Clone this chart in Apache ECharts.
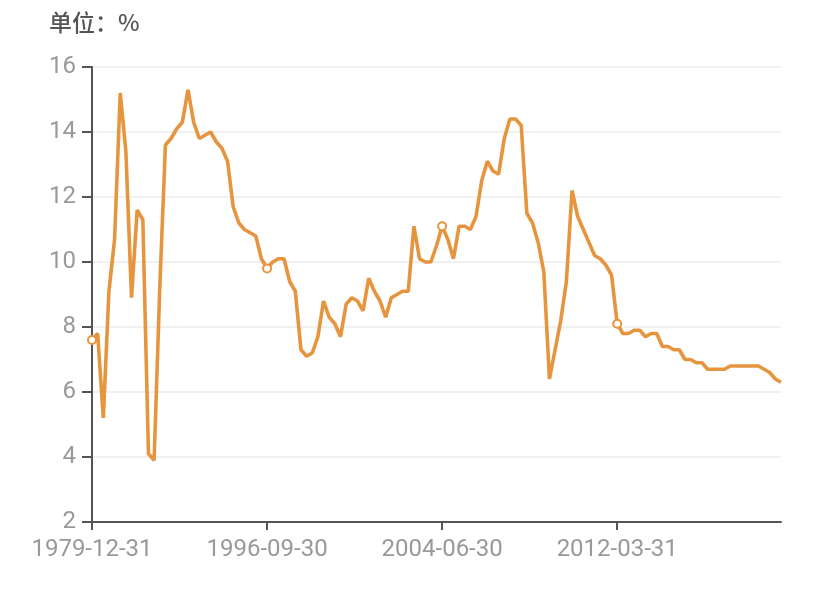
<!DOCTYPE html>
<html>
<head>
<meta charset="utf-8">
<script src="https://cdn.jsdelivr.net/npm/echarts@6/dist/echarts.min.js"></script>
<style>
html,body{margin:0;padding:0;background:#fff;}
#chart{width:831px;height:603px;}
</style>
</head>
<body>
<div id="chart"></div>
<script>
// Categories: annual 1979-1991, then quarterly 1992Q1-2019Q2
var categories = [
  "1979-12-31","1980-12-31","1981-12-31","1982-12-31","1983-12-31","1984-12-31","1985-12-31",
  "1986-12-31","1987-12-31","1988-12-31","1989-12-31","1990-12-31","1991-12-31",
  "1992-03-31","1992-06-30","1992-09-30","1992-12-31",
  "1993-03-31","1993-06-30","1993-09-30","1993-12-31",
  "1994-03-31","1994-06-30","1994-09-30","1994-12-31",
  "1995-03-31","1995-06-30","1995-09-30","1995-12-31",
  "1996-03-31","1996-06-30","1996-09-30","1996-12-31",
  "1997-03-31","1997-06-30","1997-09-30","1997-12-31",
  "1998-03-31","1998-06-30","1998-09-30","1998-12-31",
  "1999-03-31","1999-06-30","1999-09-30","1999-12-31",
  "2000-03-31","2000-06-30","2000-09-30","2000-12-31",
  "2001-03-31","2001-06-30","2001-09-30","2001-12-31",
  "2002-03-31","2002-06-30","2002-09-30","2002-12-31",
  "2003-03-31","2003-06-30","2003-09-30","2003-12-31",
  "2004-03-31","2004-06-30","2004-09-30","2004-12-31",
  "2005-03-31","2005-06-30","2005-09-30","2005-12-31",
  "2006-03-31","2006-06-30","2006-09-30","2006-12-31",
  "2007-03-31","2007-06-30","2007-09-30","2007-12-31",
  "2008-03-31","2008-06-30","2008-09-30","2008-12-31",
  "2009-03-31","2009-06-30","2009-09-30","2009-12-31",
  "2010-03-31","2010-06-30","2010-09-30","2010-12-31",
  "2011-03-31","2011-06-30","2011-09-30","2011-12-31",
  "2012-03-31","2012-06-30","2012-09-30","2012-12-31",
  "2013-03-31","2013-06-30","2013-09-30","2013-12-31",
  "2014-03-31","2014-06-30","2014-09-30","2014-12-31",
  "2015-03-31","2015-06-30","2015-09-30","2015-12-31",
  "2016-03-31","2016-06-30","2016-09-30","2016-12-31",
  "2017-03-31","2017-06-30","2017-09-30","2017-12-31",
  "2018-03-31","2018-06-30","2018-09-30","2018-12-31",
  "2019-03-31","2019-06-30"
];

// GDP growth (%), same order as categories
var growth = [
  7.6, 7.8, 5.2, 9.1, 10.7, 15.2, 13.4, 8.9, 11.6, 11.3, 4.1, 3.9, 9.2,
  13.6, 13.8, 14.1, 14.3,
  15.3, 14.3, 13.8, 13.9,
  14.0, 13.7, 13.5, 13.1,
  11.7, 11.2, 11.0, 10.9,
  10.8, 10.1, 9.8, 10.0,
  10.1, 10.1, 9.4, 9.1,
  7.3, 7.1, 7.2, 7.7,
  8.8, 8.3, 8.1, 7.7,
  8.7, 8.9, 8.8, 8.5,
  9.5, 9.1, 8.8, 8.3,
  8.9, 9.0, 9.1, 9.1,
  11.1, 10.1, 10.0, 10.0,
  10.5, 11.1, 10.7, 10.1,
  11.1, 11.1, 11.0, 11.4,
  12.5, 13.1, 12.8, 12.7,
  13.8, 14.4, 14.4, 14.2,
  11.5, 11.2, 10.6, 9.7,
  6.4, 7.3, 8.2, 9.4,
  12.2, 11.4, 11.0, 10.6,
  10.2, 10.1, 9.9, 9.6,
  8.1, 7.8, 7.8, 7.9,
  7.9, 7.7, 7.8, 7.8,
  7.4, 7.4, 7.3, 7.3,
  7.0, 7.0, 6.9, 6.9,
  6.7, 6.7, 6.7, 6.7,
  6.8, 6.8, 6.8, 6.8,
  6.8, 6.8, 6.7, 6.6,
  6.4, 6.3
];

var unitTitle = "单位：%";
var yMin = 2, yMax = 16, yStep = 2;

var chart = echarts.init(document.getElementById('chart'), null, {renderer: 'canvas'});
chart.setOption({
  animation: false,
  backgroundColor: '#ffffff',
  title: {
    text: unitTitle,
    left: 44,
    top: 6,
    textStyle: {
      fontFamily: '"Noto Sans CJK SC", sans-serif',
      fontSize: 23,
      fontWeight: 500,
      color: '#555'
    }
  },
  grid: {left: 92, right: 50, top: 67, bottom: 81, containLabel: false},
  xAxis: {
    type: 'category',
    data: categories,
    boundaryGap: false,
    axisLine: {lineStyle: {color: '#555', width: 2}},
    axisTick: {show: true, length: 8, alignWithLabel: true, interval: 30, lineStyle: {color: '#555', width: 2}},
    axisLabel: {
      interval: 30,
      margin: 16,
      color: '#999',
      fontFamily: 'Roboto, sans-serif',
      fontSize: 24
    },
    splitLine: {show: false}
  },
  yAxis: {
    type: 'value',
    min: yMin,
    max: yMax,
    interval: yStep,
    axisLine: {show: true, lineStyle: {color: '#555', width: 2}},
    axisTick: {show: true, length: 10, lineStyle: {color: '#555', width: 2}},
    axisLabel: {
      margin: 16,
      color: '#999',
      fontFamily: 'Roboto, sans-serif',
      fontSize: 24
    },
    splitLine: {show: true, lineStyle: {color: '#ececec', width: 1.5}}
  },
  series: [{
    type: 'line',
    data: growth,
    showSymbol: true,
    symbol: 'emptyCircle',
    symbolSize: 8,
    lineStyle: {color: '#E6953E', width: 3.6},
    itemStyle: {color: '#E6953E', borderWidth: 1.5}
  }]
});
</script>
</body>
</html>
